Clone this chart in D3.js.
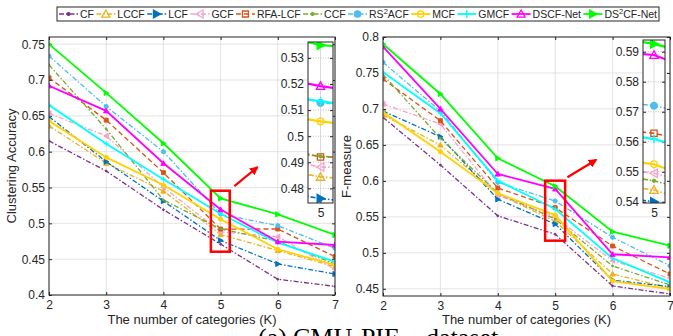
<!DOCTYPE html>
<html>
<head>
<meta charset="utf-8">
<script src="https://cdn.jsdelivr.net/npm/d3@7"></script>
<style>
  html, body { margin: 0; padding: 0; background: #fff; }
  svg { display: block; }
</style>
</head>
<body>
<svg id="chart" width="673" height="336"></svg>
<script>
// x values (number of categories K)
const categories = [2, 3, 4, 5, 6, 7];
const methods = ['CF', 'LCCF', 'LCF', 'GCF', 'RFA-LCF', 'CCF', 'RS2ACF', 'MCF', 'GMCF', 'DSCF-Net', 'DS2CF-Net'];

// clustering accuracy (left panel)
const accCF     = [0.615, 0.573, 0.519, 0.471, 0.422, 0.412];
const accLCCF   = [0.636, 0.584, 0.545, 0.4844, 0.462, 0.4395];
const accLCF    = [0.649, 0.586, 0.531, 0.4761, 0.4433, 0.4293];
const accGCF    = [0.6535, 0.622, 0.5503, 0.4882, 0.4814, 0.4358];
const accRFA    = [0.703, 0.644, 0.5707, 0.492, 0.4921, 0.4535];
const accCCF    = [0.721, 0.6316, 0.5326, 0.4923, 0.475, 0.4433];
const accRS2ACF = [0.7335, 0.663, 0.600, 0.5128, 0.4967, 0.4651];
const accMCF    = [0.643, 0.592, 0.5535, 0.5057, 0.4638, 0.4419];
const accGMCF   = [0.665, 0.611, 0.5614, 0.5134, 0.473, 0.4465];
const accDSCF   = [0.692, 0.657, 0.5838, 0.5192, 0.4744, 0.4698];
const accDS2CF  = [0.75, 0.682, 0.6117, 0.5349, 0.5126, 0.4837];

// F-measure (right panel)
const fmCF      = [0.6884, 0.6221, 0.5514, 0.5258, 0.4539, 0.4428];
const fmLCCF    = [0.6916, 0.6499, 0.5818, 0.5439, 0.4706, 0.451];
const fmLCF     = [0.697, 0.6614, 0.5744, 0.54, 0.462, 0.453];
const fmGCF     = [0.7069, 0.679, 0.580, 0.5495, 0.489, 0.4646];
const fmRFA     = [0.7416, 0.6837, 0.5901, 0.5628, 0.5095, 0.4706];
const fmCCF     = [0.748, 0.6592, 0.583, 0.547, 0.4817, 0.4553];
const fmRS2ACF  = [0.7648, 0.697, 0.598, 0.572, 0.5216, 0.4821];
const fmMCF     = [0.6953, 0.6406, 0.5828, 0.5525, 0.4608, 0.4497];
const fmGMCF    = [0.751, 0.694, 0.6003, 0.5609, 0.4924, 0.459];
const fmDSCF    = [0.7866, 0.700, 0.6096, 0.5889, 0.498, 0.4938];
const fmDS2CF   = [0.7903, 0.7208, 0.6314, 0.5926, 0.5294, 0.5099];

const accTicks = [0.4, 0.45, 0.5, 0.55, 0.6, 0.65, 0.7, 0.75];
const fmTicks = [0.45, 0.5, 0.55, 0.6, 0.65, 0.7, 0.75, 0.8];
const accInsetTicks = [0.48, 0.49, 0.5, 0.51, 0.52, 0.53];
const fmInsetTicks = [0.54, 0.55, 0.56, 0.57, 0.58, 0.59];

const accValues = [accCF, accLCCF, accLCF, accGCF, accRFA, accCCF, accRS2ACF, accMCF, accGMCF, accDSCF, accDS2CF];
const fmValues = [fmCF, fmLCCF, fmLCF, fmGCF, fmRFA, fmCCF, fmRS2ACF, fmMCF, fmGMCF, fmDSCF, fmDS2CF];

// styles, same order as methods
const styles = [
  { color: '#7E2F8E', dash: 'dd', marker: 'dot',    open: false },
  { color: '#EDB120', dash: 'dd', marker: 'up',     open: true },
  { color: '#0072BD', dash: 'dd', marker: 'right',  open: false },
  { color: '#F5A3C7', dash: 'dd', marker: 'left',   open: true },
  { color: '#D95319', dash: 'd',  marker: 'square', open: true },
  { color: '#77AC30', dash: 'dd', marker: 'dot',    open: false },
  { color: '#4DBEEE', dash: 'dd', marker: 'circle', open: false },
  { color: '#FFD100', dash: '',   marker: 'circle', open: true },
  { color: '#00FFFF', dash: '',   marker: 'plus',   open: false },
  { color: '#FF00FF', dash: '',   marker: 'up',     open: true },
  { color: '#00FF00', dash: '',   marker: 'right',  open: false }
];
const dashArr = { dd: '5,2,1.5,2', d: '5,3', '': null };

const FONT = 'Liberation Sans, Arial, Helvetica, sans-serif';
const svg = d3.select('#chart');
const defs = svg.append('defs');
defs.append('marker')
  .attr('id', 'arrowhead')
  .attr('viewBox', '0 0 10 10')
  .attr('refX', 8).attr('refY', 5)
  .attr('markerWidth', 4).attr('markerHeight', 4)
  .attr('orient', 'auto')
  .append('path').attr('d', 'M0,0 L10,5 L0,10 Z').attr('fill', '#FF0000');

function markerPath(type, s) {
  switch (type) {
    case 'up': return `M0,${-s}L${s},${s * 0.8}L${-s},${s * 0.8}Z`;
    case 'right': return `M${s},0L${-s * 0.8},${-s}L${-s * 0.8},${s}Z`;
    case 'left': return `M${-s},0L${s * 0.8},${-s}L${s * 0.8},${s}Z`;
    case 'square': return `M${-s * 0.75},${-s * 0.75}h${s * 1.5}v${s * 1.5}h${-s * 1.5}Z`;
    case 'circle': return d3.symbol(d3.symbolCircle, Math.PI * (s * 0.8) * (s * 0.8))();
    case 'plus': return `M${-s},0H${s}M0,${-s}V${s}`;
    default: return d3.symbol(d3.symbolCircle, Math.PI * (s * 0.35) * (s * 0.35))();
  }
}

function drawMarker(g, st, cx, cy, s, big) {
  const open = big && st.open;
  g.append('path')
    .attr('d', markerPath(st.marker, s))
    .attr('transform', `translate(${cx},${cy})`)
    .attr('fill', st.marker === 'plus' ? 'none' : (open ? 'none' : st.color))
    .attr('stroke', st.color)
    .attr('stroke-width', big ? 1.3 : 1);
}

function drawSeries(g, x, y, values, big) {
  values.forEach((vals, i) => {
    const st = styles[i];
    const pts = categories.map((c, j) => [c, vals[j]]);
    const line = d3.line().x(d => x(d[0])).y(d => y(d[1]));
    g.append('path')
      .attr('d', line(pts))
      .attr('fill', 'none')
      .attr('stroke', st.color)
      .attr('stroke-width', st.dash ? (big ? 1.6 : 1.3) : (big ? 2.2 : 1.8))
      .attr('stroke-dasharray', dashArr[st.dash]);
    pts.forEach(p => drawMarker(g, st, x(p[0]), y(p[1]), big ? 4.2 : 2.6, big));
  });
}

const fmt = d => String(+d.toFixed(2));

function drawPanel(cfg) {
  const x = d3.scaleLinear().domain([2, 7]).range([cfg.x0, cfg.x1]);
  const y = d3.scaleLinear().domain(cfg.yDomain).range([cfg.y1, cfg.y0]);
  const g = svg.append('g');
  const clipId = 'clip' + cfg.id;
  defs.append('clipPath').attr('id', clipId)
    .append('rect').attr('x', cfg.x0).attr('y', cfg.y0)
    .attr('width', cfg.x1 - cfg.x0).attr('height', cfg.y1 - cfg.y0);

  // grid
  g.append('g').selectAll('line').data(cfg.yTicks).join('line')
    .attr('x1', cfg.x0).attr('x2', cfg.x1)
    .attr('y1', d => y(d)).attr('y2', d => y(d))
    .attr('stroke', '#dcdcdc').attr('stroke-width', 0.8);
  g.append('g').selectAll('line').data(categories).join('line')
    .attr('x1', d => x(d)).attr('x2', d => x(d))
    .attr('y1', cfg.y0).attr('y2', cfg.y1)
    .attr('stroke', '#dcdcdc').attr('stroke-width', 0.8);

  // axes
  g.append('g').attr('transform', `translate(0,${cfg.y1})`)
    .call(d3.axisBottom(x).tickValues(categories).tickSize(-3).tickPadding(5).tickFormat(d3.format('d')));
  g.append('g').attr('transform', `translate(${cfg.x0},0)`)
    .call(d3.axisLeft(y).tickValues(cfg.yTicks).tickSize(-3).tickPadding(4).tickFormat(fmt));
  g.append('g').attr('transform', `translate(0,${cfg.y0})`)
    .call(d3.axisTop(x).tickValues(categories).tickSize(-3).tickFormat(''));
  g.append('g').attr('transform', `translate(${cfg.x1},0)`)
    .call(d3.axisRight(y).tickValues(cfg.yTicks).tickSize(-3).tickFormat(''));
  g.selectAll('.domain').remove();
  g.selectAll('.tick line').attr('stroke', '#262626');
  g.selectAll('.tick text').attr('font-family', FONT).attr('font-size', 12).attr('fill', '#262626');

  // data
  const data = g.append('g').attr('clip-path', `url(#${clipId})`);
  drawSeries(data, x, y, cfg.values, false);

  g.append('rect').attr('x', cfg.x0).attr('y', cfg.y0)
    .attr('width', cfg.x1 - cfg.x0).attr('height', cfg.y1 - cfg.y0)
    .attr('fill', 'none').attr('stroke', '#262626').attr('stroke-width', 1);

  // labels
  g.append('text')
    .attr('x', (cfg.x0 + cfg.x1) / 2).attr('y', 324)
    .attr('text-anchor', 'middle').attr('font-family', FONT).attr('font-size', 13).attr('fill', '#262626')
    .text('The number of categories (K)');
  g.append('text')
    .attr('transform', `translate(${cfg.ylabelX},${(cfg.y0 + cfg.y1) / 2}) rotate(-90)`)
    .attr('text-anchor', 'middle').attr('font-family', FONT).attr('font-size', 13).attr('fill', '#262626')
    .text(cfg.ylabel);

  // highlight box + arrow
  const r = cfg.box;
  g.append('rect')
    .attr('x', x(r.k0)).attr('y', y(r.v1))
    .attr('width', x(r.k1) - x(r.k0)).attr('height', y(r.v0) - y(r.v1))
    .attr('fill', 'none').attr('stroke', '#FF0000').attr('stroke-width', 2.5);
  const a = cfg.arrow;
  g.append('line')
    .attr('x1', x(a.k0)).attr('y1', y(a.v0)).attr('x2', x(a.k1)).attr('y2', y(a.v1))
    .attr('stroke', '#FF0000').attr('stroke-width', 2.2)
    .attr('marker-end', 'url(#arrowhead)');

  // inset
  const ins = cfg.inset;
  const ix = d3.scaleLinear().domain([4.985, 5.015]).range([ins.x0, ins.x1]);
  const iy = d3.scaleLinear().domain(ins.yDomain).range([ins.y1, ins.y0]);
  const ig = svg.append('g');
  const iclip = 'iclip' + cfg.id;
  defs.append('clipPath').attr('id', iclip)
    .append('rect').attr('x', ins.x0).attr('y', ins.y0)
    .attr('width', ins.x1 - ins.x0).attr('height', ins.y1 - ins.y0);
  ig.append('rect').attr('x', ins.x0).attr('y', ins.y0)
    .attr('width', ins.x1 - ins.x0).attr('height', ins.y1 - ins.y0).attr('fill', '#fff');
  ig.append('g').selectAll('line').data(ins.yTicks).join('line')
    .attr('x1', ins.x0).attr('x2', ins.x1)
    .attr('y1', d => iy(d)).attr('y2', d => iy(d))
    .attr('stroke', '#b0b0b0').attr('stroke-width', 0.8).attr('stroke-dasharray', '1,1.5');
  ig.append('line').attr('x1', ix(5)).attr('x2', ix(5)).attr('y1', ins.y0).attr('y2', ins.y1)
    .attr('stroke', '#d0d0d0').attr('stroke-width', 0.8);
  ig.append('g').attr('transform', `translate(${ins.x0},0)`)
    .call(d3.axisLeft(iy).tickValues(ins.yTicks).tickSize(-3).tickPadding(4).tickFormat(fmt));
  ig.append('g').attr('transform', `translate(${ins.x1},0)`)
    .call(d3.axisRight(iy).tickValues(ins.yTicks).tickSize(-3).tickFormat(''));
  ig.append('g').attr('transform', `translate(0,${ins.y1})`)
    .call(d3.axisBottom(ix).tickValues([5]).tickSize(-3).tickPadding(5).tickFormat(d3.format('d')));
  ig.selectAll('.domain').remove();
  ig.selectAll('.tick line').attr('stroke', '#262626');
  ig.selectAll('.tick text').attr('font-family', FONT).attr('font-size', 12).attr('fill', '#262626');
  const idata = ig.append('g').attr('clip-path', `url(#${iclip})`);
  drawSeries(idata, ix, iy, cfg.values, true);
  ig.append('rect').attr('x', ins.x0).attr('y', ins.y0)
    .attr('width', ins.x1 - ins.x0).attr('height', ins.y1 - ins.y0)
    .attr('fill', 'none').attr('stroke', '#262626').attr('stroke-width', 1);
}

drawPanel({
  id: 'L', x0: 49, x1: 335, y0: 37, y1: 295,
  yDomain: [0.4, 0.76], yTicks: accTicks, values: accValues,
  ylabel: 'Clustering Accuracy', ylabelX: 16,
  box: { k0: 4.83, k1: 5.16, v0: 0.4604, v1: 0.5455 },
  arrow: { k0: 5.24, v0: 0.552, k1: 5.64, v1: 0.578 },
  inset: { x0: 308, x1: 333, y0: 42, y1: 203, yDomain: [0.4744, 0.5361], yTicks: accInsetTicks }
});

drawPanel({
  id: 'R', x0: 383, x1: 670, y0: 37, y1: 296,
  yDomain: [0.44, 0.80], yTicks: fmTicks, values: fmValues,
  ylabel: 'F-measure', ylabelX: 351,
  box: { k0: 4.825, k1: 5.173, v0: 0.5169, v1: 0.6003 },
  arrow: { k0: 5.213, v0: 0.605, k1: 5.71, v1: 0.629 },
  inset: { x0: 643, x1: 665, y0: 40, y1: 203, yDomain: [0.5396, 0.5939], yTicks: fmInsetTicks }
});

// legend
const lg = svg.append('g');
const lgX0 = 57, lgX1 = 659, lgY0 = 7, lgY1 = 21;
lg.append('rect').attr('x', lgX0).attr('y', lgY0).attr('width', lgX1 - lgX0).attr('height', lgY1 - lgY0)
  .attr('fill', '#fff').attr('stroke', '#262626').attr('stroke-width', 1);
const sampleW = 19;
const items = methods.map((m, i) => {
  const it = lg.append('g');
  const t = it.append('text').attr('font-family', FONT).attr('font-size', 10.5).attr('fill', '#262626')
    .attr('y', 18);
  const sup = m.indexOf('2');
  if (sup > 0) {
    t.append('tspan').text(m.slice(0, sup));
    t.append('tspan').attr('dy', -4).attr('font-size', 7.5).text('2');
    t.append('tspan').attr('dy', 4).text(m.slice(sup + 1));
  } else {
    t.text(m);
  }
  return { g: it, t: t, w: t.node().getComputedTextLength(), st: styles[i] };
});
const used = d3.sum(items, d => sampleW + 2 + d.w);
const gap = (lgX1 - lgX0 - 4 - used) / (items.length - 1);
let cx = lgX0 + 2;
items.forEach(d => {
  const st = d.st;
  d.g.append('line').attr('x1', cx).attr('x2', cx + sampleW).attr('y1', 14).attr('y2', 14)
    .attr('stroke', st.color).attr('stroke-width', st.dash ? 1.4 : 1.8)
    .attr('stroke-dasharray', dashArr[st.dash]);
  drawMarker(d.g, st, cx + sampleW / 2, 14, 4, true);
  d.t.attr('x', cx + sampleW + 2);
  cx += sampleW + 2 + d.w + gap;
});

// caption (cut off at the bottom edge, as in the reference)
const cap = svg.append('text')
  .attr('y', 346)
  .attr('font-family', 'Liberation Serif, Times New Roman, serif').attr('font-size', 26)
  .attr('fill', '#000');
cap.append('tspan').attr('x', 258).text('(a)');
cap.append('tspan').attr('x', 293).text('CMU-PIE');
cap.append('tspan').attr('x', 426).text('dataset');
</script>
</body>
</html>
